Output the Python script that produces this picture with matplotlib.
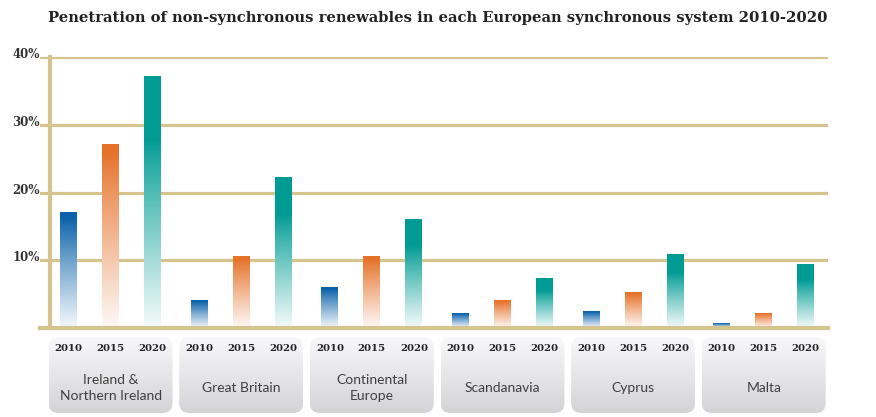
import numpy as np
import matplotlib
matplotlib.use('Agg')
import matplotlib.pyplot as plt
from matplotlib.patches import FancyBboxPatch
from matplotlib.colors import to_rgb

regions = ['Ireland &\nNorthern Ireland', 'Great Britain', 'Continental\nEurope',
           'Scandanavia', 'Cyprus', 'Malta']
years = ['2010', '2015', '2020']
pen_2010 = [17.0, 4.0, 6.0, 2.1, 2.4, 0.6]
pen_2015 = [27.1, 10.6, 10.6, 4.0, 5.2, 2.1]
pen_2020 = [37.1, 22.2, 16.0, 7.3, 10.9, 9.4]
y_ticks = [10, 20, 30, 40]

colors = ['#0a62aa', '#e6722a', '#009c94']
gold = '#d6c48e'
group_step = 3.11
bar_w = 0.4

fig = plt.figure(figsize=(8.76, 4.17), dpi=100)
W, H = 876, 417
ax = fig.add_axes([40 / W, (H - 328) / H, 788 / W, 271 / H])
ax.set_xlim(-0.68, 18.08)
ax.set_ylim(0, 40)


def gradient_img(color, plateau):
    t = np.linspace(0, 1, 200)[:, None]
    f = 0.96 * np.clip((t - plateau) / (1 - plateau), 0, 1) ** 0.9
    rgb = np.array(to_rgb(color))
    img = rgb * (1 - f[..., None]) + f[..., None]
    return np.repeat(img, 2, axis=1)


series = [pen_2010, pen_2015, pen_2020]
for j, vals in enumerate(series):
    plateau = 0.25 if j == 2 else 0.05
    img = gradient_img(colors[j], plateau)
    for g, v in enumerate(vals):
        x = g * group_step + j
        ax.imshow(img, extent=[x - bar_w / 2, x + bar_w / 2, 0, v],
                  aspect='auto', zorder=3, interpolation='bilinear')

ax.set_xlim(-0.68, 18.08)
ax.set_ylim(0, 40)
for yv in y_ticks:
    ax.axhline(yv, color=gold, lw=2.3, zorder=1)
ax.axhline(0, color=gold, lw=3, zorder=4, clip_on=False)
ax.plot([-0.44, -0.44], [0, 40], color=gold, lw=3, zorder=4, clip_on=False)

for s in ax.spines.values():
    s.set_visible(False)
ax.set_xticks([])
ax.set_yticks([])
for yv in y_ticks:
    fig.text(40 / W, ax.transData.transform((0, yv))[1] / H + 2.5 / H, f'{yv}%',
             ha='right', va='center', fontsize=8.5, fontweight='bold',
             family='DejaVu Serif', color='#333333')

# category boxes underneath
bx = fig.add_axes([40 / W, 0, 788 / W, 82 / H])
bx.set_xlim(-0.68, 18.08)
bx.set_ylim(0, 82 / 42)
bx.axis('off')
grad = np.linspace(0.975, 0.83, 100)[:, None]
grad = np.repeat(np.dstack([grad, grad, grad * 1.01]).clip(0, 1), 2, axis=1)
for g, name in enumerate(regions):
    cx = g * group_step + 1
    x0, x1 = cx - 2.95 / 2, cx + 2.95 / 2
    y0, y1 = 0.095, 1.905
    box = FancyBboxPatch((x0 + 0.24, y0 + 0.24), 2.95 - 0.48, (y1 - y0) - 0.48,
                         boxstyle='round,pad=0.24', fc='none', ec='none')
    bx.add_patch(box)
    im = bx.imshow(grad, extent=[x0, x1, y0, y1], aspect='auto', zorder=1,
                   interpolation='bilinear')
    im.set_clip_path(box)
    for j, yr in enumerate(years):
        bx.text(cx - 1 + j, 1.62, yr, ha='center', va='center', fontsize=7.3,
                fontweight='bold', family='DejaVu Serif', color='#222222', zorder=3)
    bx.text(cx, 0.69, name, ha='center', va='center', fontsize=10, family='Lato',
            color='#404040', linespacing=1.4, zorder=3)
bx.set_xlim(-0.68, 18.08)
bx.set_ylim(0, 82 / 42)

fig.text(48 / W, (H - 18) / H,
         'Penetration of non-synchronous renewables in each European synchronous system 2010-2020',
         ha='left', va='center', fontsize=10.6, fontweight='bold', family='DejaVu Serif',
         color='#222222')

fig.savefig('out.png', dpi=100)
